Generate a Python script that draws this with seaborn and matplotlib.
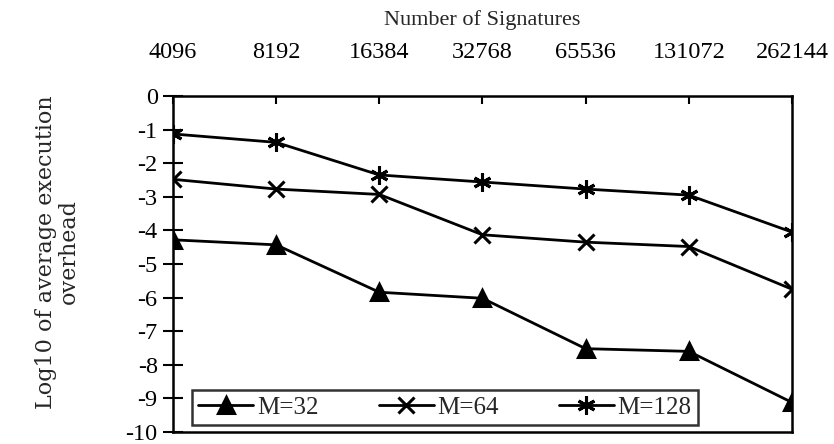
import pandas as pd
import matplotlib
matplotlib.use("Agg")
import matplotlib.pyplot as plt
import seaborn as sns

# Data
signatures = ["4096", "8192", "16384", "32768", "65536", "131072", "262144"]
m32 = [-4.28, -4.43, -5.84, -6.02, -7.52, -7.60, -9.12]
m64 = [-2.48, -2.77, -2.93, -4.13, -4.35, -4.48, -5.75]
m128 = [-1.13, -1.38, -2.35, -2.56, -2.77, -2.95, -4.05]
series = ["M=32", "M=64", "M=128"]

rows = []
for name, vals in zip(series, [m32, m64, m128]):
    for i, v in enumerate(vals):
        rows.append({"pos": i, "value": v, "M": name})
df = pd.DataFrame(rows)

sns.set_theme(style="white")
plt.rcParams["font.family"] = ["Liberation Serif", "DejaVu Serif"]
plt.rcParams["axes.unicode_minus"] = False

fig = plt.figure(figsize=(8.34, 4.44), dpi=100)
ax = fig.add_axes([0.2074, 0.027, 0.7422, 0.7568])

markers = {"M=32": "^", "M=64": "x", "M=128": (6, 2, 0)}
msizes = {"M=32": 11, "M=64": 11, "M=128": 13}
for name in series:
    sub = df[df["M"] == name]
    sns.lineplot(data=sub, x="pos", y="value", color="black",
                 marker=markers[name], linewidth=2, markersize=msizes[name],
                 markeredgewidth=2.2, markeredgecolor="black",
                 markerfacecolor="black", label=name, ax=ax)

ax.set_xlim(0, 6)
ax.set_ylim(-10, 0)
ax.set_xticks(range(len(signatures)))
ax.set_xticklabels(signatures)
ax.set_yticks(range(-10, 1))
ax.xaxis.tick_top()
ax.xaxis.set_label_position("top")
ax.set_xlabel("Number of Signatures", fontsize=16, labelpad=12)
ax.set_ylabel("Log10 of average execution\noverhead", fontsize=16,
              family="DejaVu Serif", linespacing=1.07)
ax.yaxis.set_label_coords(-0.150, 0.536)

ax.tick_params(axis="x", direction="in", length=6, width=1.5, pad=24,
               labelsize=17.5, top=True, bottom=False, colors="black")
ax.tick_params(axis="y", direction="inout", length=14, width=1.5, pad=4,
               labelsize=17.5, left=True, colors="black")

for s in ax.spines.values():
    s.set_visible(True)
    s.set_color("black")
    s.set_linewidth(1.8)

# legend box spans roughly x 192..698 px, y 384..424 px
leg = ax.legend(loc="lower left", ncol=3, fontsize=18, frameon=True,
                fancybox=False, edgecolor="black", handlelength=2.2,
                handletextpad=0.15, borderpad=0.25, mode="expand",
                bbox_to_anchor=(0.031, 0.021, 0.817, 0.12), borderaxespad=0)
leg.get_frame().set_linewidth(1.8)

fig.savefig("out.png", dpi=100)
